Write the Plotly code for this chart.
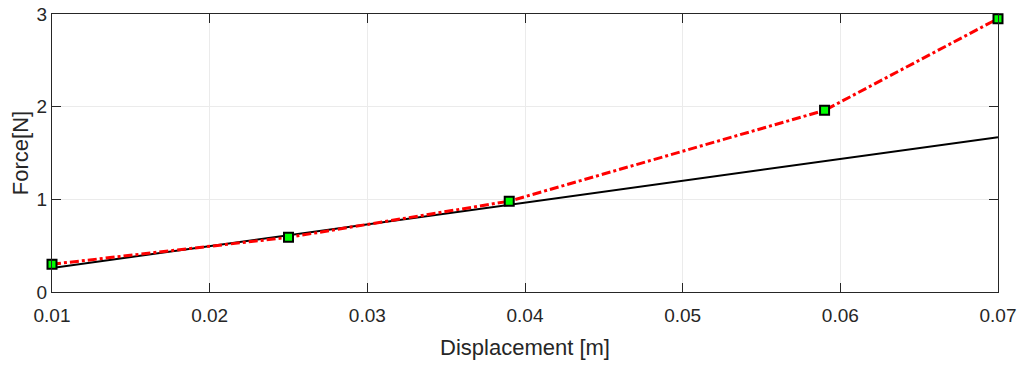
import plotly.graph_objects as go

disp_meas = [0.01, 0.025, 0.039, 0.059, 0.07]
force_meas = [0.30, 0.59, 0.98, 1.96, 2.95]
disp_lin = [0.01, 0.07]
force_lin = [0.26, 1.67]

x_ticks = [0.01, 0.02, 0.03, 0.04, 0.05, 0.06, 0.07]
y_ticks = [0, 1, 2, 3]

fig = go.Figure()
fig.add_trace(go.Scatter(x=disp_lin, y=force_lin, mode="lines",
                         line=dict(color="black", width=2), cliponaxis=False, showlegend=False))
fig.add_trace(go.Scatter(x=disp_meas, y=force_meas, mode="lines+markers",
                         line=dict(color="#ff0000", width=3, dash="dashdot"),
                         marker=dict(symbol="square", size=9, color="#00ff00",
                                     line=dict(color="black", width=2)),
                         cliponaxis=False, showlegend=False))

axcol = "#262626"
fam = "Liberation Sans, Arial, sans-serif"
common = dict(showline=True, linecolor=axcol, linewidth=1, mirror="ticks",
              ticks="inside", ticklen=9, tickcolor=axcol, tickwidth=1,
              showgrid=True, gridcolor="#ebebeb", gridwidth=1, zeroline=False,
              automargin=False,
              tickfont=dict(family=fam, size=19, color=axcol))

fig.update_layout(
    width=1019, height=365,
    margin=dict(l=52, r=21, t=14, b=73),
    paper_bgcolor="white", plot_bgcolor="white",
    xaxis=dict(range=[0.01, 0.07], tickvals=x_ticks, ticktext=[f"{v:.2f}" for v in x_ticks],
               ticklabelstandoff=6,
               title=dict(text="Displacement [m]", standoff=14,
                          font=dict(family=fam, size=22, color=axcol)),
               **common),
    yaxis=dict(range=[0, 3], tickvals=y_ticks,
               title=dict(text="Force[N]", standoff=1,
                          font=dict(family=fam, size=22, color=axcol)),
               **common),
)

fig.write_html("out.html", config={"displayModeBar": False},
               post_script="document.body.style.margin='0px';document.body.style.overflow='hidden';")
